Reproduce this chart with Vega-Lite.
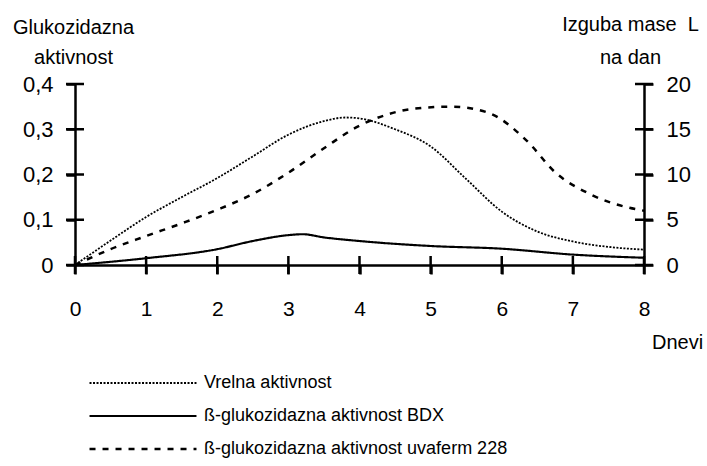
{
  "$schema": "https://vega.github.io/schema/vega-lite/v6.json",
  "width": 569,
  "height": 181,
  "autosize": "none",
  "padding": {"left": 75, "top": 84, "right": 63, "bottom": 201},
  "background": "white",
  "config": {
    "font": "Liberation Sans",
    "view": {"stroke": null},
    "axis": {
      "grid": false,
      "ticks": true,
      "domainColor": "black",
      "domainWidth": 2.5,
      "tickColor": "black",
      "tickWidth": 2.5,
      "labelColor": "black",
      "titleColor": "black",
      "labelFont": "Liberation Sans",
      "titleFont": "Liberation Sans",
      "titleFontWeight": "normal",
      "labelFlush": false
    },
    "legend": {
      "orient": "none",
      "legendX": 59,
      "legendY": 290,
      "padding": 0,
      "symbolType": "M-20,0H20",
      "symbolSize": 28.6,
      "symbolStrokeColor": "black",
      "symbolOffset": 0,
      "labelFont": "Liberation Sans",
      "labelFontSize": 18,
      "labelColor": "black",
      "labelOffset": 52,
      "labelLimit": 500,
      "rowPadding": 15
    }
  },
  "datasets": {
    "main": [
      {"series": "Vrelna aktivnost", "day": 0, "value": 0},
      {"series": "Vrelna aktivnost", "day": 0.5, "value": 2.7},
      {"series": "Vrelna aktivnost", "day": 1, "value": 5.3},
      {"series": "Vrelna aktivnost", "day": 1.5, "value": 7.5},
      {"series": "Vrelna aktivnost", "day": 2, "value": 9.6},
      {"series": "Vrelna aktivnost", "day": 2.5, "value": 12.0},
      {"series": "Vrelna aktivnost", "day": 3, "value": 14.4},
      {"series": "Vrelna aktivnost", "day": 3.5, "value": 15.9},
      {"series": "Vrelna aktivnost", "day": 3.8, "value": 16.3},
      {"series": "Vrelna aktivnost", "day": 4, "value": 16.2},
      {"series": "Vrelna aktivnost", "day": 4.5, "value": 15.0},
      {"series": "Vrelna aktivnost", "day": 5, "value": 13.1},
      {"series": "Vrelna aktivnost", "day": 5.5, "value": 9.5},
      {"series": "Vrelna aktivnost", "day": 6, "value": 5.9},
      {"series": "Vrelna aktivnost", "day": 6.5, "value": 3.7},
      {"series": "Vrelna aktivnost", "day": 7, "value": 2.6},
      {"series": "Vrelna aktivnost", "day": 7.5, "value": 2.0},
      {"series": "Vrelna aktivnost", "day": 8, "value": 1.7},
      {"series": "ß-glukozidazna aktivnost BDX", "day": 0, "value": 0},
      {"series": "ß-glukozidazna aktivnost BDX", "day": 1, "value": 0.015},
      {"series": "ß-glukozidazna aktivnost BDX", "day": 2, "value": 0.035},
      {"series": "ß-glukozidazna aktivnost BDX", "day": 2.5, "value": 0.053},
      {"series": "ß-glukozidazna aktivnost BDX", "day": 3, "value": 0.066},
      {"series": "ß-glukozidazna aktivnost BDX", "day": 3.2, "value": 0.068},
      {"series": "ß-glukozidazna aktivnost BDX", "day": 3.5, "value": 0.061},
      {"series": "ß-glukozidazna aktivnost BDX", "day": 4, "value": 0.053},
      {"series": "ß-glukozidazna aktivnost BDX", "day": 5, "value": 0.042},
      {"series": "ß-glukozidazna aktivnost BDX", "day": 6, "value": 0.036},
      {"series": "ß-glukozidazna aktivnost BDX", "day": 7, "value": 0.023},
      {"series": "ß-glukozidazna aktivnost BDX", "day": 8, "value": 0.016},
      {"series": "ß-glukozidazna aktivnost uvaferm 228", "day": 0, "value": 0},
      {"series": "ß-glukozidazna aktivnost uvaferm 228", "day": 0.5, "value": 0.035},
      {"series": "ß-glukozidazna aktivnost uvaferm 228", "day": 1, "value": 0.064},
      {"series": "ß-glukozidazna aktivnost uvaferm 228", "day": 1.5, "value": 0.092},
      {"series": "ß-glukozidazna aktivnost uvaferm 228", "day": 2, "value": 0.122},
      {"series": "ß-glukozidazna aktivnost uvaferm 228", "day": 2.5, "value": 0.157},
      {"series": "ß-glukozidazna aktivnost uvaferm 228", "day": 3, "value": 0.204},
      {"series": "ß-glukozidazna aktivnost uvaferm 228", "day": 3.5, "value": 0.258},
      {"series": "ß-glukozidazna aktivnost uvaferm 228", "day": 4, "value": 0.308},
      {"series": "ß-glukozidazna aktivnost uvaferm 228", "day": 4.4, "value": 0.333},
      {"series": "ß-glukozidazna aktivnost uvaferm 228", "day": 4.75, "value": 0.345},
      {"series": "ß-glukozidazna aktivnost uvaferm 228", "day": 5.3, "value": 0.35},
      {"series": "ß-glukozidazna aktivnost uvaferm 228", "day": 5.8, "value": 0.337},
      {"series": "ß-glukozidazna aktivnost uvaferm 228", "day": 6.35, "value": 0.275},
      {"series": "ß-glukozidazna aktivnost uvaferm 228", "day": 6.75, "value": 0.205},
      {"series": "ß-glukozidazna aktivnost uvaferm 228", "day": 7.25, "value": 0.156},
      {"series": "ß-glukozidazna aktivnost uvaferm 228", "day": 7.75, "value": 0.128},
      {"series": "ß-glukozidazna aktivnost uvaferm 228", "day": 8, "value": 0.12}
    ],
    "xticks": [
      {"day": 0}, {"day": 1}, {"day": 2}, {"day": 3}, {"day": 4},
      {"day": 5}, {"day": 6}, {"day": 7}, {"day": 8}
    ],
    "leftticks": [
      {"value": 0}, {"value": 0.1}, {"value": 0.2}, {"value": 0.3}, {"value": 0.4}
    ],
    "rightticks": [
      {"value": 0}, {"value": 5}, {"value": 10}, {"value": 15}, {"value": 20}
    ]
  },
  "layer": [
    {
      "data": {"name": "main"},
      "transform": [{"filter": "datum.series !== 'Vrelna aktivnost'"}],
      "mark": {"type": "line", "interpolate": "monotone", "color": "black"},
      "encoding": {
        "x": {
          "field": "day", "type": "quantitative",
          "scale": {"domain": [0, 8], "nice": false},
          "axis": {
            "orient": "bottom", "values": [0, 1, 2, 3, 4, 5, 6, 7, 8], "format": "d",
            "tickSize": 9, "labelFontSize": 21, "labelPadding": 24, "labelFlush": false,
            "title": "Dnevi", "titleFontSize": 20, "titleX": 602, "titleY": 83,
            "titleAlign": "center", "titleBaseline": "alphabetic"
          }
        },
        "y": {
          "field": "value", "type": "quantitative",
          "scale": {"domain": [0, 0.4], "nice": false},
          "axis": {
            "orient": "left", "values": [0, 0.1, 0.2, 0.3, 0.4],
            "labelExpr": "replace(format(datum.value, '.1~f'), '.', ',')",
            "tickSize": 9, "labelFontSize": 22, "labelPadding": 13,
            "title": ["Glukozidazna", "aktivnost"], "titleFontSize": 20,
            "titleAngle": 0, "titleX": -2, "titleY": -51, "titleAlign": "center",
            "titleBaseline": "alphabetic", "titleLineHeight": 30
          }
        },
        "strokeDash": {
          "field": "series", "type": "nominal",
          "scale": {
            "domain": ["Vrelna aktivnost", "ß-glukozidazna aktivnost BDX", "ß-glukozidazna aktivnost uvaferm 228"],
            "range": [[2, 1.5], [1, 0], [6, 7]]
          },
          "legend": {"title": null}
        },
        "strokeWidth": {
          "field": "series", "type": "nominal",
          "scale": {
            "domain": ["Vrelna aktivnost", "ß-glukozidazna aktivnost BDX", "ß-glukozidazna aktivnost uvaferm 228"],
            "range": [1.8, 2.5, 3.5]
          },
          "legend": {"title": null}
        }
      }
    },
    {
      "data": {"name": "main"},
      "transform": [{"filter": "datum.series === 'Vrelna aktivnost'"}],
      "mark": {"type": "line", "interpolate": "monotone", "color": "black"},
      "encoding": {
        "x": {"field": "day", "type": "quantitative"},
        "y": {
          "field": "value", "type": "quantitative",
          "scale": {"domain": [0, 20], "nice": false},
          "axis": {
            "orient": "right", "values": [0, 5, 10, 15, 20],
            "tickSize": 9, "labelFontSize": 22, "labelPadding": 13,
            "title": ["Izguba mase\u00a0\u00a0L", "na dan"], "titleFontSize": 20,
            "titleAngle": 0, "titleX": -14, "titleY": -54, "titleAlign": "center",
            "titleBaseline": "alphabetic", "titleLineHeight": 33
          }
        },
        "strokeDash": {
          "field": "series", "type": "nominal",
          "scale": {
            "domain": ["Vrelna aktivnost", "ß-glukozidazna aktivnost BDX", "ß-glukozidazna aktivnost uvaferm 228"],
            "range": [[2, 1.5], [1, 0], [6, 7]]
          },
          "legend": {"title": null}
        },
        "strokeWidth": {
          "field": "series", "type": "nominal",
          "scale": {
            "domain": ["Vrelna aktivnost", "ß-glukozidazna aktivnost BDX", "ß-glukozidazna aktivnost uvaferm 228"],
            "range": [1.8, 2.5, 3.5]
          },
          "legend": {"title": null}
        }
      }
    },
    {
      "data": {"name": "xticks"},
      "mark": {"type": "tick", "orient": "vertical", "size": 18, "thickness": 2.5, "color": "black", "opacity": 1},
      "encoding": {
        "x": {"field": "day", "type": "quantitative"},
        "y": {"datum": 0, "type": "quantitative", "scale": {"domain": [0, 0.4], "nice": false}, "axis": null}
      }
    },
    {
      "data": {"name": "leftticks"},
      "mark": {"type": "tick", "orient": "horizontal", "size": 18, "thickness": 2.5, "color": "black", "opacity": 1},
      "encoding": {
        "x": {"datum": 0, "type": "quantitative"},
        "y": {"field": "value", "type": "quantitative", "scale": {"domain": [0, 0.4], "nice": false}, "axis": null}
      }
    },
    {
      "data": {"name": "rightticks"},
      "mark": {"type": "tick", "orient": "horizontal", "size": 18, "thickness": 2.5, "color": "black", "opacity": 1},
      "encoding": {
        "x": {"datum": 8, "type": "quantitative"},
        "y": {"field": "value", "type": "quantitative", "scale": {"domain": [0, 20], "nice": false}, "axis": null}
      }
    }
  ],
  "resolve": {"scale": {"y": "independent"}}
}
